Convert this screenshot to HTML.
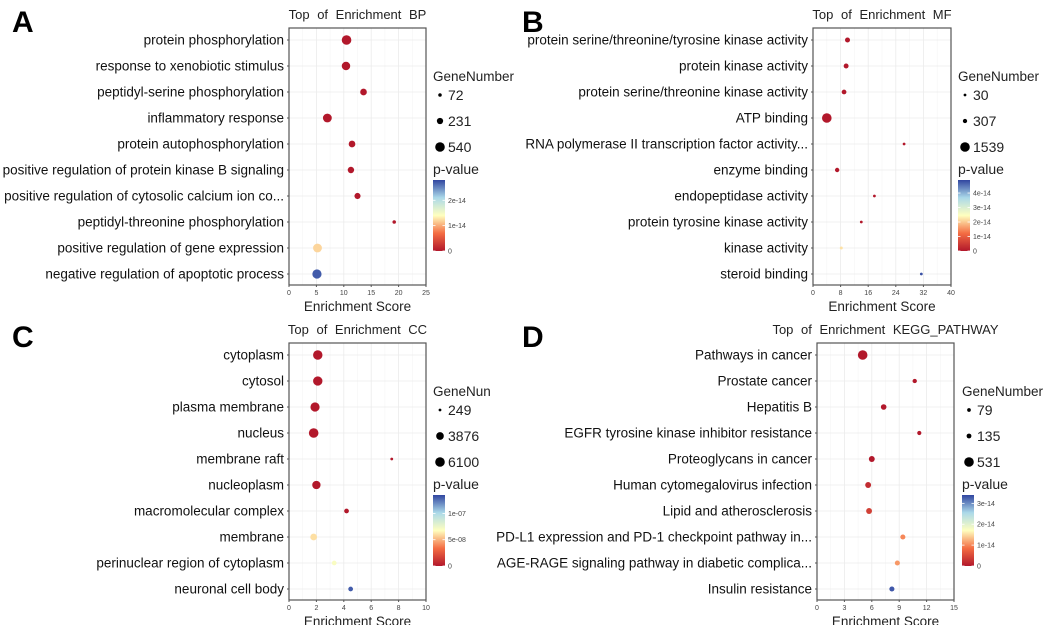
<!DOCTYPE html>
<html><head><meta charset="utf-8"><style>
html,body{margin:0;padding:0;background:#fff;width:1045px;height:625px;overflow:hidden}
svg{font-family:"Liberation Sans",sans-serif}
</style></head><body>
<svg id="fig" width="1045" height="625"></svg>
<script>
const catsA=["protein phosphorylation","response to xenobiotic stimulus","peptidyl-serine phosphorylation","inflammatory response","protein autophosphorylation","positive regulation of protein kinase B signaling","positive regulation of cytosolic calcium ion co...","peptidyl-threonine phosphorylation","positive regulation of gene expression","negative regulation of apoptotic process"];
const scoreA=[10.5,10.4,13.6,7.0,11.5,11.3,12.5,19.2,5.2,5.1];
const genesA=[540,420,260,460,260,240,220,72,460,500];
const pA=[0,0,0,0,0,0,0,0,1.2e-14,2.7e-14];
const catsB=["protein serine/threonine/tyrosine kinase activity","protein kinase activity","protein serine/threonine kinase activity","ATP binding","RNA polymerase II transcription factor activity...","enzyme binding","endopeptidase activity","protein tyrosine kinase activity","kinase activity","steroid binding"];
const scoreB=[10,9.6,9,4,26.4,7,17.8,14,8.2,31.4];
const genesB=[420,400,380,1539,110,320,120,130,150,30];
const pB=[0,0,0,0,0,0,0,0,2.2e-14,4.8e-14];
const catsC=["cytoplasm","cytosol","plasma membrane","nucleus","membrane raft","nucleoplasm","macromolecular complex","membrane","perinuclear region of cytoplasm","neuronal cell body"];
const scoreC=[2.1,2.1,1.9,1.8,7.5,2.0,4.2,1.8,3.3,4.5];
const genesC=[5900,5800,5600,6100,249,4600,1500,3000,1500,1500];
const pC=[0,0,0,0,0,0,0,6e-8,7e-8,1.3e-7];
const catsD=["Pathways in cancer","Prostate cancer","Hepatitis B","EGFR tyrosine kinase inhibitor resistance","Proteoglycans in cancer","Human cytomegalovirus infection","Lipid and atherosclerosis","PD-L1 expression and PD-1 checkpoint pathway in...","AGE-RAGE signaling pathway in diabetic complica...","Insulin resistance"];
const scoreD=[5,10.7,7.3,11.2,6,5.6,5.7,9.4,8.8,8.2];
const genesD=[531,110,180,100,200,200,200,150,150,150];
const pD=[0,0,0,0,0,2e-15,4e-15,1e-14,1.1e-14,3.3e-14];
const ticksA=[0,5,10,15,20,25], ticksB=[0,8,16,24,32,40], ticksC=[0,2,4,6,8,10], ticksD=[0,3,6,9,12,15];
const legA=[72,231,540], legB=[30,307,1539], legC=[249,3876,6100], legD=[79,135,531];
const cbTicksA=["0","1e-14","2e-14"], cbValsA=[0,1e-14,2e-14], cbMaxA=2.8e-14;
const cbTicksB=["0","1e-14","2e-14","3e-14","4e-14"], cbValsB=[0,1e-14,2e-14,3e-14,4e-14], cbMaxB=4.9e-14;
const cbTicksC=["0","5e-08","1e-07"], cbValsC=[0,5e-8,1e-7], cbMaxC=1.35e-7;
const cbTicksD=["0","1e-14","2e-14","3e-14"], cbValsD=[0,1e-14,2e-14,3e-14], cbMaxD=3.4e-14;

const NS="http://www.w3.org/2000/svg", svg=document.getElementById('fig');
function mk(t,a,p){const e=document.createElementNS(NS,t);for(const k in a)e.setAttribute(k,a[k]);(p||svg).appendChild(e);return e;}
const stops=[[0,[178,24,43]],[0.25,[244,109,67]],[0.5,[255,255,191]],[0.75,[171,217,233]],[1,[49,70,160]]];
function col(t){t=Math.max(0,Math.min(1,t));for(let i=1;i<stops.length;i++){if(t<=stops[i][0]){const a=stops[i-1],b=stops[i],f=(t-a[0])/(b[0]-a[0]);return 'rgb('+a[1].map((v,j)=>Math.round(v+(b[1][j]-v)*f)).join(',')+')';}}return 'rgb(49,70,160)';}
let gid=0;
function panel(o){
  const g=mk('g',{});
  const L=o.x0,R=o.x1,T=o.y0,B=o.y1,xmax=o.ticks[o.ticks.length-1];
  const xs=v=>L+(R-L)*v/xmax, ys=i=>T+12+i*26;
  const lt=mk('text',{x:o.lx,y:T+4,'font-size':30,'font-weight':'bold',fill:'#000'},g);lt.textContent=o.letter;
  
  const tt=mk('text',{x:(L+R)/2,y:T-9,'font-size':13,'text-anchor':'middle','word-spacing':'4px',fill:'#222'},g);tt.textContent=o.title;
  
  for(let k=0;k<o.ticks.length;k++){const x=xs(o.ticks[k]);mk('line',{x1:x,x2:x,y1:T,y2:B,stroke:'#ebebeb','stroke-width':0.8},g);
    if(k<o.ticks.length-1){const xm=(x+xs(o.ticks[k+1]))/2;mk('line',{x1:xm,x2:xm,y1:T,y2:B,stroke:'#f5f5f5','stroke-width':0.6},g);}
    const tl=mk('text',{x:x,y:B+10,'font-size':7,'text-anchor':'middle',fill:'#444'},g);tl.textContent=o.ticks[k];
    
    mk('line',{x1:x,x2:x,y1:B,y2:B+2,stroke:'#555'},g);}
  const gmax=o.leg[o.leg.length-1];
  const rad=v=>Math.max(1.4,4.8*Math.sqrt(v/gmax));
  for(let i=0;i<o.cats.length;i++){const y=ys(i);
    mk('line',{x1:L,x2:R,y1:y,y2:y,stroke:'#ebebeb','stroke-width':0.8},g);
    mk('line',{x1:L-2,x2:L,y1:y,y2:y,stroke:'#555'},g);
    const cl=mk('text',{x:L-5,y:y+4.5,'font-size':13.5,'text-anchor':'end',fill:'#111'},g);cl.textContent=o.cats[i];
    }
  mk('rect',{x:L,y:T,width:R-L,height:B-T,fill:'none',stroke:'#555','stroke-width':1.2},g);
  for(let i=0;i<o.cats.length;i++){
    const c=mk('circle',{cx:xs(o.score[i]),cy:ys(i),r:rad(o.genes[i]),fill:col(o.p[i]/o.cbMax)},g);
    }
  const xt=mk('text',{x:(L+R)/2,y:B+26,'font-size':13.5,'text-anchor':'middle',fill:'#222'},g);xt.textContent='Enrichment Score';
  
  const gx=o.legx, gy=T+53;
  const lt2=mk('text',{x:gx,y:gy,'font-size':13.5,fill:'#222'},g);lt2.textContent=o.legTitle;
  
  for(let k=0;k<o.leg.length;k++){const y=gy+18+k*26;
    mk('circle',{cx:gx+7,cy:y-4,r:rad(o.leg[k]),fill:'#000'},g);
    const t=mk('text',{x:gx+15,y:y+1,'font-size':14,fill:'#222'},g);t.textContent=o.leg[k];
    }
  const pt=mk('text',{x:gx,y:gy+93,'font-size':14,fill:'#222'},g);pt.textContent='p-value';
  
  const id='grad'+(gid++);const defs=mk('defs',{},g);
  const lg=mk('linearGradient',{id:id,x1:0,y1:1,x2:0,y2:0},defs);
  stops.forEach(s=>mk('stop',{offset:s[0],'stop-color':'rgb('+s[1].join(',')+')'},lg));
  const cbT=gy+99,cbB=gy+170;
  const cb=mk('rect',{x:gx,y:cbT,width:12,height:cbB-cbT,fill:'url(#'+id+')'},g);
  
  for(let k=0;k<o.cbVals.length;k++){const y=cbB-(cbB-cbT)*o.cbVals[k]/o.cbMax;
    mk('line',{x1:gx,x2:gx+2.5,y1:y,y2:y,stroke:'#fff','stroke-width':0.8},g);
    mk('line',{x1:gx+9.5,x2:gx+12,y1:y,y2:y,stroke:'#fff','stroke-width':0.8},g);
    const t=mk('text',{x:gx+15,y:y+2.5,'font-size':7,fill:'#444'},g);t.textContent=o.cbLab[k];
    }
}
panel({name:'panel-a-bp',letter:'A',lx:12,x0:289,x1:426,y0:28,y1:285,title:'Top of Enrichment BP',cats:catsA,score:scoreA,genes:genesA,p:pA,ticks:ticksA,leg:legA,legTitle:'GeneNumber',legx:433,cbVals:cbValsA,cbLab:cbTicksA,cbMax:cbMaxA});
panel({name:'panel-b-mf',letter:'B',lx:522,x0:813,x1:951,y0:28,y1:285,title:'Top of Enrichment MF',cats:catsB,score:scoreB,genes:genesB,p:pB,ticks:ticksB,leg:legB,legTitle:'GeneNumber',legx:958,cbVals:cbValsB,cbLab:cbTicksB,cbMax:cbMaxB});
panel({name:'panel-c-cc',letter:'C',lx:12,x0:289,x1:426,y0:343,y1:600,title:'Top of Enrichment CC',cats:catsC,score:scoreC,genes:genesC,p:pC,ticks:ticksC,leg:legC,legTitle:'GeneNun',legx:433,cbVals:cbValsC,cbLab:cbTicksC,cbMax:cbMaxC});
panel({name:'panel-d-kegg',letter:'D',lx:522,x0:817,x1:954,y0:343,y1:600,title:'Top of Enrichment KEGG_PATHWAY',cats:catsD,score:scoreD,genes:genesD,p:pD,ticks:ticksD,leg:legD,legTitle:'GeneNumber',legx:962,cbVals:cbValsD,cbLab:cbTicksD,cbMax:cbMaxD});
</script>
</body></html>
